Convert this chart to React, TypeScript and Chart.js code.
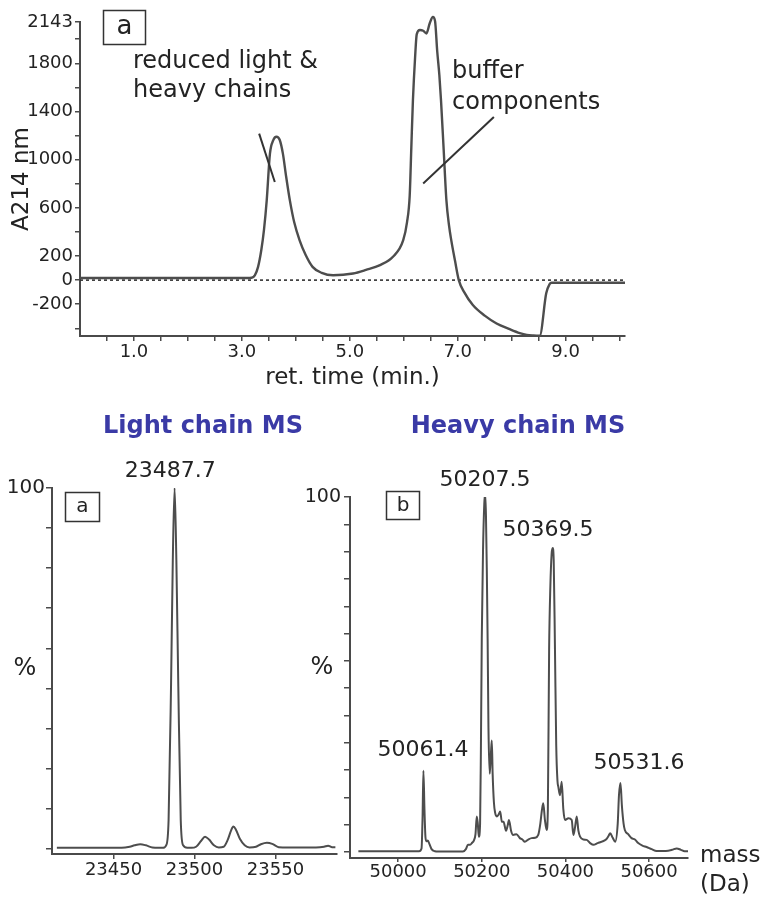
import React, { useEffect, useRef } from 'react';
import { Chart, registerables } from 'chart.js';

Chart.register(...registerables);

const FONT = "'DejaVu Sans', 'Liberation Sans', Arial, sans-serif";
const INK = '#232323';
const AXIS = '#4a4a4a';
const TRACE = '#4d4d4d';
const TITLE_BLUE = '#3a3aa6';

// ---------- Panel (a): chromatogram ----------
const chromTime = [0, 3.10, 3.18, 3.24, 3.30, 3.36, 3.41, 3.46, 3.52, 3.58, 3.64, 3.70, 3.76, 3.82, 3.89, 3.97, 4.07, 4.18, 4.31, 4.48, 4.69, 5.06, 5.30, 5.56, 5.80, 5.99, 6.06, 6.11, 6.14, 6.17, 6.21, 6.24, 6.30, 6.36, 6.42, 6.48, 6.54, 6.58, 6.62, 6.66, 6.69, 6.74, 6.79, 6.84, 6.88, 6.95, 7.02, 7.12, 7.28, 7.50, 7.72, 7.95, 8.15, 8.28, 8.40, 8.52, 8.64, 8.70, 8.74, 10.1];
const chromA214 = [18, 18, 20, 40, 110, 250, 420, 660, 1050, 1160, 1190, 1165, 1050, 860, 660, 480, 330, 210, 110, 60, 40, 55, 85, 125, 194, 332, 480, 700, 1100, 1495, 1850, 2040, 2076, 2070, 2048, 2131, 2185, 2150, 1900, 1700, 1495, 1080, 664, 450, 332, 160, 0, -100, -207, -295, -360, -405, -440, -455, -460, -462, -110, -35, -22, -22];
const chromZeroTime = [0, 10.1];
const chromZeroA214 = [0, 0];
const reducedPointerTime = [3.32, 3.61];
const reducedPointerA214 = [1216, 815];
const bufferPointerTime = [7.67, 6.36];
const bufferPointerA214 = [1354, 802];
const chromXTicks = [0.5, 1, 1.5, 2, 2.5, 3, 3.5, 4, 4.5, 5, 5.5, 6, 6.5, 7, 7.5, 8, 8.5, 9, 9.5, 10];
const chromXTickLabels = ['', '1.0', '', '', '', '3.0', '', '', '', '5.0', '', '', '', '7.0', '', '', '', '9.0', '', ''];
const chromYTicks = [-400, -200, 0, 200, 400, 600, 800, 1000, 1200, 1400, 1600, 1800, 2000, 2143];
const chromYTickLabels = ['', '-200', '0', '200', '', '600', '', '1000', '', '1400', '', '1800', '', '2143'];

// ---------- Light chain MS ----------
const lcMass = [23415, 23440, 23455, 23460, 23463, 23466.5, 23470, 23474, 23478, 23480.5, 23482.5, 23484, 23485.5, 23486.6, 23487.7, 23488.8, 23490, 23491.5, 23493, 23495.5, 23498, 23501, 23504, 23506.5, 23509, 23512, 23515, 23518, 23520.5, 23522.5, 23524, 23525.5, 23528, 23531, 23534, 23538, 23541, 23544.7, 23548, 23552, 23558, 23566, 23575, 23580, 23582.5, 23585, 23587];
const lcIntensity = [0.3, 0.3, 0.3, 0.6, 1.0, 1.3, 1.0, 0.4, 0.3, 0.3, 1, 8, 45, 80, 100, 80, 45, 8, 1, 0.3, 0.3, 0.6, 2.2, 3.4, 2.6, 1.0, 0.4, 0.6, 2.5, 5.0, 6.2, 5.4, 2.8, 1.0, 0.4, 0.6, 1.3, 1.7, 1.4, 0.5, 0.4, 0.4, 0.4, 0.6, 0.9, 0.5, 0.5];
const lcXTicks = [23450, 23500, 23550];
const lcXTickLabels = ['23450', '23500', '23550'];
const lcYTicks = [0, 11.1, 22.2, 33.3, 44.4, 55.6, 66.7, 77.8, 88.9, 100];
const lcYTickLabels = ['', '', '', '', '', '', '', '', '', '100'];
const lcPeakLabels = ['23487.7'];
const lcPeakLabelMass = [23485];
const lcPeakLabelY = [104.5];

// ---------- Heavy chain MS ----------
const hcMass = [49905, 50050, 50056, 50058.5, 50060.5, 50063, 50065.5, 50068, 50071, 50075, 50080, 50088, 50096, 50155, 50162, 50167, 50172, 50177, 50181, 50185, 50188, 50190.5, 50193, 50196, 50198, 50200, 50203, 50206, 50208, 50210, 50212, 50214, 50216, 50219, 50222, 50224, 50226, 50229, 50232, 50236, 50240, 50244, 50248, 50252, 50258, 50262, 50265, 50270, 50275, 50283, 50291, 50297, 50303, 50311, 50319, 50327, 50335, 50340, 50344, 50347, 50351, 50355, 50358, 50361, 50364, 50367, 50369.5, 50372, 50375, 50378, 50381, 50383, 50387, 50391, 50395, 50399, 50407, 50415, 50419, 50423, 50427, 50431, 50435, 50443, 50451, 50459, 50467, 50477, 50487, 50497, 50503, 50507, 50513, 50519, 50525, 50528, 50531.6, 50535, 50539, 50542, 50550, 50558, 50566, 50574, 50584, 50594, 50606, 50618, 50640, 50655, 50666, 50676, 50685, 50693];
const hcIntensity = [0.2, 0.2, 1, 10, 22.9, 12, 4, 3, 3.2, 2.2, 0.8, 0.2, 0.1, 0.1, 0.8, 2, 2, 2.6, 3.2, 5, 10, 8, 4.3, 8, 30, 60, 85, 98, 101, 95, 80, 60, 35, 22, 28, 31.4, 22, 14, 11, 10, 10.5, 11.4, 8.5, 8.5, 6, 7.5, 9, 6, 4.8, 5, 3.9, 3.5, 2.9, 3.5, 3.9, 4, 4.8, 8, 12, 13.7, 9, 6.2, 12, 57, 75, 84, 85.6, 82, 57, 30, 20, 18.4, 16, 19.8, 12, 9, 9.5, 9, 4.8, 7, 10, 6, 4.3, 3.5, 3.4, 2.5, 2, 2.5, 2.9, 3.5, 4.5, 5.3, 4, 2.9, 8, 16, 19.4, 13, 8, 6.2, 5, 3.9, 3.5, 2.5, 1.8, 1.4, 0.8, 0.3, 0.3, 0.6, 1, 0.6, 0.2, 0.2];
const hcXTicks = [50000, 50200, 50400, 50600];
const hcXTickLabels = ['50000', '50200', '50400', '50600'];
const hcYTicks = [0, 7.7, 15.4, 23.1, 30.8, 38.5, 46.2, 53.8, 61.5, 69.2, 76.9, 84.6, 92.3, 100];
const hcYTickLabels = ['', '', '', '', '', '', '', '', '', '', '', '', '', '100'];
const hcPeakLabels = ['50061.4', '50207.5', '50369.5', '50531.6'];
const hcPeakLabelMass = [50059.7, 50207.9, 50358.4, 50575.9];
const hcPeakLabelY = [28.7, 104.8, 90.7, 25.1];

type ScaleSpec = {
  axis: 'x' | 'y';
  min: number;
  max: number;
  ticks: number[];
  labels: string[];
  thickness: number;
  fontSize: number;
  tickLength: number;
  padding: number;
  title?: { text: string; size: number; padding: { top: number; bottom: number } };
};

function buildScale(s: ScaleSpec): any {
  return {
    type: 'linear',
    position: s.axis === 'x' ? 'bottom' : 'left',
    min: s.min,
    max: s.max,
    afterBuildTicks: (scale: any) => {
      scale.ticks = s.ticks.map((v) => ({ value: v }));
    },
    afterFit: (scale: any) => {
      if (s.axis === 'x') scale.height = s.thickness;
      else scale.width = s.thickness;
    },
    ticks: {
      autoSkip: false,
      maxRotation: 0,
      minRotation: 0,
      color: INK,
      font: { family: FONT, size: s.fontSize },
      padding: s.padding,
      callback: (_v: any, i: number) => s.labels[i] ?? '',
    },
    grid: {
      display: true,
      drawOnChartArea: false,
      drawTicks: true,
      tickLength: s.tickLength,
      color: AXIS,
      lineWidth: 1.5,
    },
    border: { display: true, color: AXIS, width: 2 },
    title: s.title
      ? { display: true, text: s.title.text, color: INK, font: { family: FONT, size: s.title.size }, padding: s.title.padding }
      : { display: false },
  };
}

function series(xs: number[], ys: number[]) {
  return xs.map((x, i) => ({ x, y: ys[i] }));
}

function lineDataset(xs: number[], ys: number[], extra: any) {
  return {
    type: 'line',
    data: series(xs, ys),
    pointRadius: 0,
    fill: false,
    ...extra,
  };
}

function boxLabel(ctx: CanvasRenderingContext2D, text: string, x: number, y: number, w: number, h: number, size: number) {
  ctx.save();
  ctx.strokeStyle = '#333';
  ctx.lineWidth = 1.5;
  ctx.strokeRect(x, y, w, h);
  ctx.fillStyle = INK;
  ctx.font = `${size}px ${FONT}`;
  ctx.textAlign = 'center';
  ctx.textBaseline = 'middle';
  ctx.fillText(text, x + w / 2, y + h / 2);
  ctx.restore();
}

function text(ctx: CanvasRenderingContext2D, t: string, x: number, y: number, font: string, color: string, align: CanvasTextAlign, baseline: CanvasTextBaseline) {
  ctx.save();
  ctx.font = font;
  ctx.fillStyle = color;
  ctx.textAlign = align;
  ctx.textBaseline = baseline;
  ctx.fillText(t, x, y);
  ctx.restore();
}

const baseOptions = {
  animation: false,
  responsive: false,
  maintainAspectRatio: false,
  events: [],
  plugins: { legend: { display: false }, tooltip: { enabled: false } },
};

function chromConfig(): any {
  return {
    type: 'line',
    data: {
      datasets: [
        lineDataset(chromZeroTime, chromZeroA214, { borderColor: '#333', borderWidth: 1.6, borderDash: [3, 3], order: 3 }),
        lineDataset(chromTime, chromA214, { borderColor: TRACE, borderWidth: 2.4, cubicInterpolationMode: 'monotone', clip: false, order: 1 }),
        lineDataset(reducedPointerTime, reducedPointerA214, { borderColor: '#333', borderWidth: 2, order: 0 }),
        lineDataset(bufferPointerTime, bufferPointerA214, { borderColor: '#333', borderWidth: 2, order: 0 }),
      ],
    },
    options: {
      ...baseOptions,
      layout: { padding: { top: 22, right: 139, left: 0, bottom: 0 } },
      scales: {
        x: buildScale({
          axis: 'x', min: 0, max: 10.1, ticks: chromXTicks, labels: chromXTickLabels,
          thickness: 64, fontSize: 18, tickLength: 5, padding: 1,
          title: { text: 'ret. time (min.)', size: 23, padding: { top: 0, bottom: 8 } },
        }),
        y: buildScale({
          axis: 'y', min: -464, max: 2143, ticks: chromYTicks, labels: chromYTickLabels,
          thickness: 80, fontSize: 18, tickLength: 5, padding: 2,
          title: { text: 'A214 nm', size: 23, padding: { top: 8, bottom: 0 } },
        }),
      },
    },
    plugins: [
      {
        id: 'chromAnnotations',
        afterDraw(chart: any) {
          const ctx = chart.ctx as CanvasRenderingContext2D;
          const f = `24px ${FONT}`;
          boxLabel(ctx, 'a', 103.5, 10.5, 42, 34, 26);
          text(ctx, 'reduced light &', 133, 68, f, INK, 'left', 'alphabetic');
          text(ctx, 'heavy chains', 133, 97, f, INK, 'left', 'alphabetic');
          text(ctx, 'buffer', 452, 78, f, INK, 'left', 'alphabetic');
          text(ctx, 'components', 452, 109, f, INK, 'left', 'alphabetic');
        },
      },
    ],
  };
}

function lcConfig(): any {
  return {
    type: 'line',
    data: {
      datasets: [
        lineDataset(lcMass, lcIntensity, { borderColor: TRACE, borderWidth: 2, cubicInterpolationMode: 'monotone' }),
      ],
    },
    options: {
      ...baseOptions,
      layout: { padding: { top: 88, right: 8, left: 0, bottom: 0 } },
      scales: {
        x: buildScale({
          axis: 'x', min: 23412, max: 23588, ticks: lcXTicks, labels: lcXTickLabels,
          thickness: 44, fontSize: 18, tickLength: 5, padding: 1,
        }),
        y: buildScale({
          axis: 'y', min: -1.4, max: 100, ticks: lcYTicks, labels: lcYTickLabels,
          thickness: 52, fontSize: 20, tickLength: 6, padding: 1,
        }),
      },
    },
    plugins: [
      {
        id: 'lcAnnotations',
        afterDraw(chart: any) {
          const ctx = chart.ctx as CanvasRenderingContext2D;
          const xs = chart.scales.x;
          const ys = chart.scales.y;
          text(ctx, 'Light chain MS', 203, 27, `bold 24px ${FONT}`, TITLE_BLUE, 'center', 'middle');
          text(ctx, '%', 25, 269, `24px ${FONT}`, INK, 'center', 'middle');
          boxLabel(ctx, 'a', 65.5, 92.5, 34, 29, 20);
          lcPeakLabels.forEach((l, i) => {
            text(ctx, l, xs.getPixelForValue(lcPeakLabelMass[i]), ys.getPixelForValue(lcPeakLabelY[i]), `22px ${FONT}`, INK, 'center', 'middle');
          });
        },
      },
    ],
  };
}

function hcConfig(): any {
  return {
    type: 'line',
    data: {
      datasets: [
        lineDataset(hcMass, hcIntensity, { borderColor: TRACE, borderWidth: 2, cubicInterpolationMode: 'monotone' }),
      ],
    },
    options: {
      ...baseOptions,
      layout: { padding: { top: 97, right: 76, left: 0, bottom: 0 } },
      scales: {
        x: buildScale({
          axis: 'x', min: 49885, max: 50693, ticks: hcXTicks, labels: hcXTickLabels,
          thickness: 40, fontSize: 18, tickLength: 4, padding: 0,
        }),
        y: buildScale({
          axis: 'y', min: -1.7, max: 100, ticks: hcYTicks, labels: hcYTickLabels,
          thickness: 60, fontSize: 19, tickLength: 6, padding: 3,
        }),
      },
    },
    plugins: [
      {
        id: 'hcAnnotations',
        afterDraw(chart: any) {
          const ctx = chart.ctx as CanvasRenderingContext2D;
          const xs = chart.scales.x;
          const ys = chart.scales.y;
          text(ctx, 'Heavy chain MS', 228, 27, `bold 24px ${FONT}`, TITLE_BLUE, 'center', 'middle');
          text(ctx, '%', 32, 268, `24px ${FONT}`, INK, 'center', 'middle');
          boxLabel(ctx, 'b', 96.5, 91.5, 33, 28, 20);
          hcPeakLabels.forEach((l, i) => {
            text(ctx, l, xs.getPixelForValue(hcPeakLabelMass[i]), ys.getPixelForValue(hcPeakLabelY[i]), `22px ${FONT}`, INK, 'center', 'middle');
          });
          text(ctx, 'mass', 410, 456, `23px ${FONT}`, INK, 'left', 'middle');
          text(ctx, '(Da)', 410, 485, `23px ${FONT}`, INK, 'left', 'middle');
        },
      },
    ],
  };
}

export default function App() {
  const topRef = useRef<HTMLCanvasElement>(null);
  const lcRef = useRef<HTMLCanvasElement>(null);
  const hcRef = useRef<HTMLCanvasElement>(null);

  useEffect(() => {
    Chart.defaults.font.family = FONT;
    Chart.defaults.color = INK;
    const charts: Chart[] = [];
    if (topRef.current) charts.push(new Chart(topRef.current, chromConfig()));
    if (lcRef.current) charts.push(new Chart(lcRef.current, lcConfig()));
    if (hcRef.current) charts.push(new Chart(hcRef.current, hcConfig()));
    return () => charts.forEach((c) => c.destroy());
  }, []);

  return (
    <div style={{ position: 'absolute', left: 0, top: 0, width: 764, height: 898, background: '#ffffff', overflow: 'hidden' }}>
      <canvas ref={topRef} width={764} height={400} style={{ position: 'absolute', left: 0, top: 0 }} />
      <canvas ref={lcRef} width={345} height={498} style={{ position: 'absolute', left: 0, top: 400 }} />
      <canvas ref={hcRef} width={474} height={498} style={{ position: 'absolute', left: 290, top: 400 }} />
    </div>
  );
}
